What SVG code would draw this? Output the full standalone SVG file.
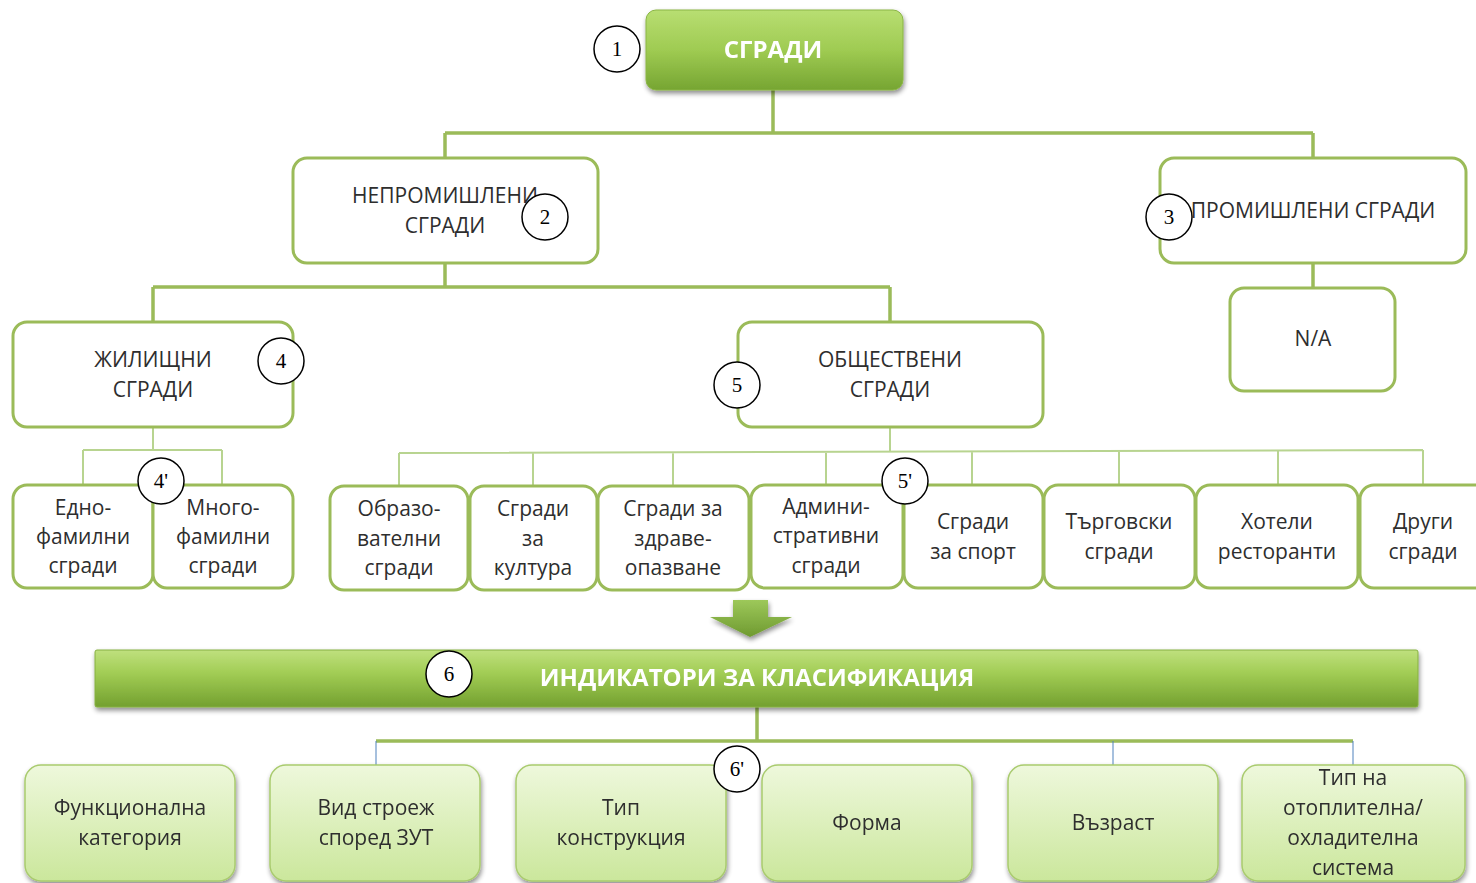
<svg xmlns="http://www.w3.org/2000/svg" width="1476" height="883" viewBox="0 0 1476 883">
<defs>
<linearGradient id="gTop" x1="0" y1="0" x2="0" y2="1">
<stop offset="0" stop-color="#b8de72"/><stop offset="0.5" stop-color="#9fcb52"/><stop offset="1" stop-color="#76a532"/>
</linearGradient>
<linearGradient id="gBar" x1="0" y1="0" x2="0" y2="1">
<stop offset="0" stop-color="#bfe07e"/><stop offset="0.4" stop-color="#a2cd55"/><stop offset="1" stop-color="#73a02f"/>
</linearGradient>
<linearGradient id="gLight" x1="0" y1="0" x2="0" y2="1">
<stop offset="0" stop-color="#eef8dc"/><stop offset="1" stop-color="#cbe79c"/>
</linearGradient>
<linearGradient id="gArrow" x1="0" y1="0" x2="0" y2="1">
<stop offset="0" stop-color="#9dc85a"/><stop offset="1" stop-color="#6f9a30"/>
</linearGradient>
<filter id="sh" x="-10%" y="-20%" width="120%" height="150%">
<feGaussianBlur in="SourceAlpha" stdDeviation="2.5"/>
<feOffset dx="1" dy="3" result="b"/>
<feComponentTransfer><feFuncA type="linear" slope="0.45"/></feComponentTransfer>
<feMerge><feMergeNode/><feMergeNode in="SourceGraphic"/></feMerge>
</filter>
</defs>
<style>
.t{font-family:"Open Sans","Liberation Sans",sans-serif;font-size:21px;fill:#2e2e2e;text-anchor:middle}
.tw{font-family:"Open Sans","Liberation Sans",sans-serif;font-weight:bold;fill:#ffffff;text-anchor:middle}
.box{fill:#ffffff;stroke:#9bbb59;stroke-width:3}
.sub{fill:#ffffff;stroke:#9bbb59;stroke-width:3}
.lb{fill:url(#gLight);stroke:#a9cb6e;stroke-width:1.5}
.c1{stroke:#9bbb59;stroke-width:3.5;fill:none}
.c2{stroke:#b8d490;stroke-width:2;fill:none}
.cb{stroke:#4f81bd;stroke-width:1;fill:none}
.num circle{fill:#ffffff;stroke:#000000;stroke-width:1.5}
.num text{font-family:"Liberation Serif",serif;font-size:21px;fill:#000000;text-anchor:middle}
</style>
<rect width="1476" height="883" fill="#ffffff"/>

<g id="connectors">
<path class="c1" d="M773 90V133M445 133H1313M445 133V158M1313 133V158"/>
<path class="c1" d="M1313 263V288"/>
<path class="c1" d="M445 263V287M153 287H890M153 287V322M890 287V322"/>
<path class="c2" d="M153 427V450M83 450H222M83 450V485M222 450V485"/>
<path class="c2" d="M890 427V452M399 453L1423 450M399 453V485M533 453V485M673 452V485M826 452V485M972 451V485M1119 451V485M1278 450V485M1423 450V485"/>
<path class="c1" d="M757 707V741M376 741H1353"/>
<path class="cb" d="M376 741V765M1113 741V765M1353 741V765"/>
</g>

<g id="n1" filter="url(#sh)">
<rect x="646" y="10" width="257" height="80" rx="10" fill="url(#gTop)" stroke="#8ab545" stroke-width="1"/>
<text class="tw" x="773" y="58" font-size="24">СГРАДИ</text>
</g>

<g id="n2">
<rect class="box" x="293" y="158" width="305" height="105" rx="14"/>
<text class="t" x="445" y="203">НЕПРОМИШЛЕНИ</text>
<text class="t" x="445" y="233">СГРАДИ</text>
</g>

<g id="n3">
<rect class="box" x="1160" y="158" width="306" height="105" rx="14"/>
<text class="t" x="1313" y="218">ПРОМИШЛЕНИ СГРАДИ</text>
</g>

<g id="n3a">
<rect class="box" x="1230" y="288" width="165" height="103" rx="14"/>
<text class="t" x="1313" y="346">N/A</text>
</g>

<g id="n4">
<rect class="box" x="13" y="322" width="280" height="105" rx="14"/>
<text class="t" x="153" y="367">ЖИЛИЩНИ</text>
<text class="t" x="153" y="397">СГРАДИ</text>
</g>

<g id="n5">
<rect class="box" x="738" y="322" width="305" height="105" rx="14"/>
<text class="t" x="890" y="367">ОБЩЕСТВЕНИ</text>
<text class="t" x="890" y="397">СГРАДИ</text>
</g>

<g id="n4a">
<rect class="sub" x="13" y="485" width="140" height="103" rx="14"/>
<text class="t" x="83" y="515">Едно-</text>
<text class="t" x="83" y="544">фамилни</text>
<text class="t" x="83" y="573">сгради</text>
</g>
<g id="n4b">
<rect class="sub" x="153" y="485" width="140" height="103" rx="14"/>
<text class="t" x="223" y="515">Много-</text>
<text class="t" x="223" y="544">фамилни</text>
<text class="t" x="223" y="573">сгради</text>
</g>

<g id="n5a">
<rect class="sub" x="330" y="486" width="138" height="104" rx="14"/>
<text class="t" x="399" y="516">Образо-</text>
<text class="t" x="399" y="546">вателни</text>
<text class="t" x="399" y="575">сгради</text>
</g>
<g id="n5b">
<rect class="sub" x="470" y="486" width="127" height="104" rx="14"/>
<text class="t" x="533" y="516">Сгради</text>
<text class="t" x="533" y="546">за</text>
<text class="t" x="533" y="575">култура</text>
</g>
<g id="n5c">
<rect class="sub" x="598" y="486" width="151" height="104" rx="14"/>
<text class="t" x="673" y="516">Сгради за</text>
<text class="t" x="673" y="546">здраве-</text>
<text class="t" x="673" y="575">опазване</text>
</g>
<g id="n5d">
<rect class="sub" x="751" y="485" width="152" height="103" rx="14"/>
<text class="t" x="826" y="514">Админи-</text>
<text class="t" x="826" y="543">стративни</text>
<text class="t" x="826" y="573">сгради</text>
</g>
<g id="n5e">
<rect class="sub" x="904" y="485" width="139" height="103" rx="14"/>
<text class="t" x="973" y="529">Сгради</text>
<text class="t" x="973" y="559">за спорт</text>
</g>
<g id="n5f">
<rect class="sub" x="1044" y="485" width="151" height="103" rx="14"/>
<text class="t" x="1119" y="529">Търговски</text>
<text class="t" x="1119" y="559">сгради</text>
</g>
<g id="n5g">
<rect class="sub" x="1196" y="485" width="162" height="103" rx="14"/>
<text class="t" x="1277" y="529">Хотели</text>
<text class="t" x="1277" y="559">ресторанти</text>
</g>
<g id="n5h">
<rect class="sub" x="1360" y="485" width="130" height="103" rx="14"/>
<text class="t" x="1423" y="529">Други</text>
<text class="t" x="1423" y="559">сгради</text>
</g>

<g id="arrow" filter="url(#sh)">
<path d="M733 600H768V617H792L750 637L710 617H733Z" fill="url(#gArrow)"/>
</g>

<g id="n6" filter="url(#sh)">
<rect x="95" y="650" width="1323" height="57" rx="2" fill="url(#gBar)" stroke="#86b040" stroke-width="1"/>
<text class="tw" x="757" y="686" font-size="24">ИНДИКАТОРИ ЗА КЛАСИФИКАЦИЯ</text>
</g>

<g id="n6a" filter="url(#sh)">
<rect class="lb" x="25" y="765" width="210" height="116" rx="16"/>
<text class="t" x="130" y="815">Функционална</text>
<text class="t" x="130" y="845">категория</text>
</g>
<g id="n6b" filter="url(#sh)">
<rect class="lb" x="270" y="765" width="210" height="116" rx="16"/>
<text class="t" x="376" y="815">Вид строеж</text>
<text class="t" x="376" y="845">според ЗУТ</text>
</g>
<g id="n6c" filter="url(#sh)">
<rect class="lb" x="516" y="765" width="210" height="116" rx="16"/>
<text class="t" x="621" y="815">Тип</text>
<text class="t" x="621" y="845">конструкция</text>
</g>
<g id="n6d" filter="url(#sh)">
<rect class="lb" x="762" y="765" width="210" height="116" rx="16"/>
<text class="t" x="867" y="830">Форма</text>
</g>
<g id="n6e" filter="url(#sh)">
<rect class="lb" x="1008" y="765" width="210" height="116" rx="16"/>
<text class="t" x="1113" y="830">Възраст</text>
</g>
<g id="n6f" filter="url(#sh)">
<rect class="lb" x="1242" y="765" width="223" height="116" rx="16"/>
<text class="t" x="1353" y="785">Тип на</text>
<text class="t" x="1353" y="815">отоплителна/</text>
<text class="t" x="1353" y="845">охладителна</text>
<text class="t" x="1353" y="875">система</text>
</g>

<g id="labels" class="num">
<g><circle cx="617" cy="49" r="23"/><text x="617" y="56">1</text></g>
<g><circle cx="545" cy="217" r="23"/><text x="545" y="224">2</text></g>
<g><circle cx="1169" cy="217" r="23"/><text x="1169" y="224">3</text></g>
<g><circle cx="281" cy="361" r="23"/><text x="281" y="368">4</text></g>
<g><circle cx="161" cy="481" r="23"/><text x="161" y="488">4'</text></g>
<g><circle cx="737" cy="385" r="23"/><text x="737" y="392">5</text></g>
<g><circle cx="905" cy="481" r="23"/><text x="905" y="488">5'</text></g>
<g><circle cx="449" cy="674" r="23"/><text x="449" y="681">6</text></g>
<g><circle cx="737" cy="769" r="23"/><text x="737" y="776">6'</text></g>
</g>
</svg>
